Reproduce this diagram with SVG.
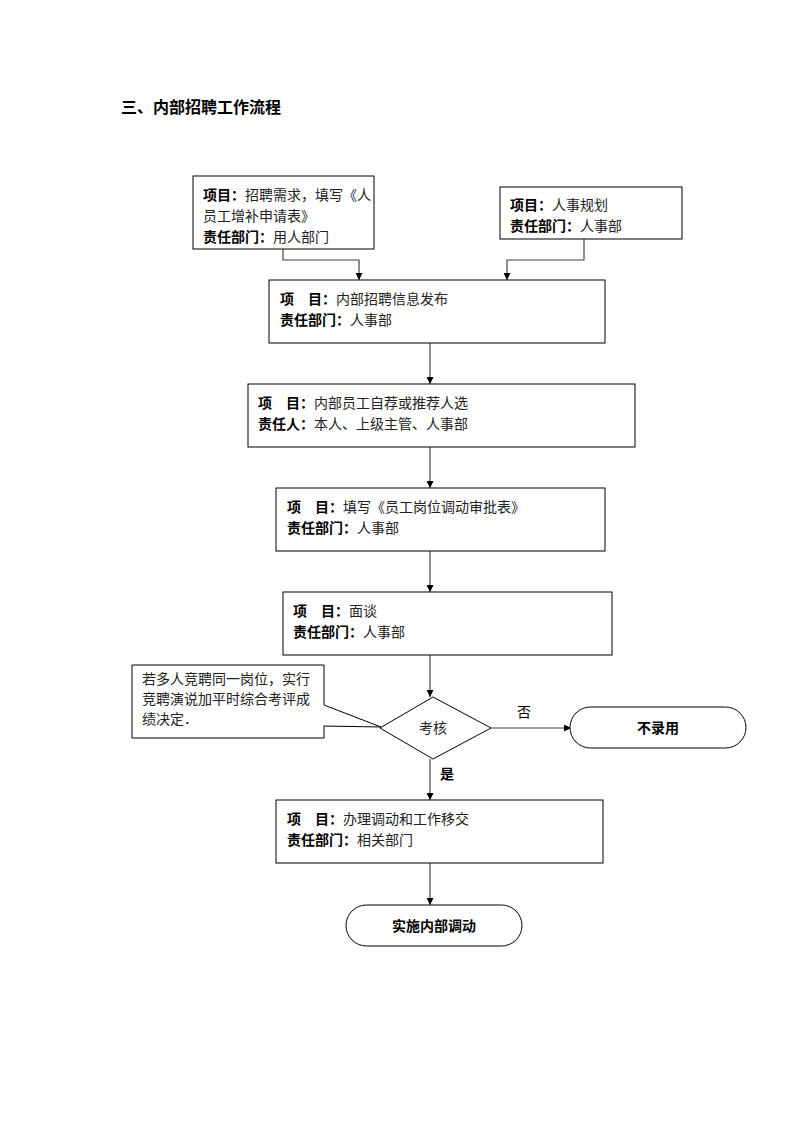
<svg xmlns="http://www.w3.org/2000/svg" width="793" height="1122" viewBox="0 0 793 1122">
<style>
text{font-family:"Noto Sans CJK SC","Liberation Sans",sans-serif;font-size:14px;fill:#000}
.b{font-weight:700}
.v{fill:#222}
.t{font-size:16px;font-weight:700}
.c{text-anchor:middle}
.box{fill:#fff;stroke:#000;stroke-width:1}
.conn{fill:none;stroke:#444;stroke-width:1.2}
</style>
<defs>
<marker id="ah" viewBox="0 0 10 10" refX="10" refY="5" markerWidth="7" markerHeight="7" orient="auto" markerUnits="userSpaceOnUse">
<path d="M0,0 L10,5 L0,10 z" fill="#000"/>
</marker>
</defs>
<rect width="793" height="1122" fill="#fff"/>
<text class="t" x="121" y="113">三、内部招聘工作流程</text>

<g id="connectors">
<path class="conn" d="M283,249 V260 H359 V280" marker-end="url(#ah)"/>
<path class="conn" d="M584,239 V260 H507 V280" marker-end="url(#ah)"/>
<path class="conn" d="M430,343 V384" marker-end="url(#ah)"/>
<path class="conn" d="M430,447 V488" marker-end="url(#ah)"/>
<path class="conn" d="M430,551 V592" marker-end="url(#ah)"/>
<path class="conn" d="M430,655 V697" marker-end="url(#ah)"/>
<path class="conn" d="M491,728 H571" marker-end="url(#ah)"/>
<path class="conn" d="M430,759 V800" marker-end="url(#ah)"/>
<path class="conn" d="M430,863 V905" marker-end="url(#ah)"/>
<text x="524" y="717" class="c">否</text>
<text x="447" y="779" class="c b">是</text>
</g>

<g id="n1">
<rect class="box" x="193" y="176" width="181" height="73"/>
<text x="203" y="200"><tspan class="b">项目：</tspan><tspan class="v">招聘需求，填写《人</tspan></text>
<text x="203" y="221" class="v">员工增补申请表》</text>
<text x="203" y="242"><tspan class="b">责任部门：</tspan><tspan class="v">用人部门</tspan></text>
</g>

<g id="n2">
<rect class="box" x="500" y="187" width="182" height="52"/>
<text x="510" y="210"><tspan class="b">项目：</tspan><tspan class="v">人事规划</tspan></text>
<text x="510" y="231"><tspan class="b">责任部门：</tspan><tspan class="v">人事部</tspan></text>
</g>

<g id="n3">
<rect class="box" x="269" y="280" width="336" height="63"/>
<text x="280" y="304"><tspan class="b">项　目：</tspan><tspan class="v">内部招聘信息发布</tspan></text>
<text x="280" y="325"><tspan class="b">责任部门：</tspan><tspan class="v">人事部</tspan></text>
</g>

<g id="n4">
<rect class="box" x="248" y="384" width="387" height="63"/>
<text x="258" y="408"><tspan class="b">项　目：</tspan><tspan class="v">内部员工自荐或推荐人选</tspan></text>
<text x="258" y="429"><tspan class="b">责任人：</tspan><tspan class="v">本人、上级主管、人事部</tspan></text>
</g>

<g id="n5">
<rect class="box" x="276" y="488" width="329" height="63"/>
<text x="287" y="512"><tspan class="b">项　目：</tspan><tspan class="v">填写《员工岗位调动审批表》</tspan></text>
<text x="287" y="533"><tspan class="b">责任部门：</tspan><tspan class="v">人事部</tspan></text>
</g>

<g id="n6">
<rect class="box" x="283" y="592" width="329" height="63"/>
<text x="293" y="616"><tspan class="b">项　目：</tspan><tspan class="v">面谈</tspan></text>
<text x="293" y="637"><tspan class="b">责任部门：</tspan><tspan class="v">人事部</tspan></text>
</g>

<g id="callout">
<path d="M132,665 H324 V705 L381,727 L324,726 V738 H132 Z" fill="#fff" stroke="#000" stroke-width="1"/>
<text x="142" y="684" class="v">若多人竞聘同一岗位，实行</text>
<text x="142" y="704" class="v">竞聘演说加平时综合考评成</text>
<text x="142" y="724" class="v">绩决定．</text>
</g>

<g id="decision">
<path d="M433,697 L491,728 L433,759 L380,728 Z" fill="#fff" stroke="#000" stroke-width="1"/>
<text x="433" y="733" class="c v">考核</text>
</g>

<g id="reject">
<rect class="box" x="570" y="707" width="176" height="41" rx="20.5" ry="20.5"/>
<text x="658" y="733" class="c b">不录用</text>
</g>

<g id="n7">
<rect class="box" x="276" y="800" width="327" height="63"/>
<text x="287" y="824"><tspan class="b">项　目：</tspan><tspan class="v">办理调动和工作移交</tspan></text>
<text x="287" y="845"><tspan class="b">责任部门：</tspan><tspan class="v">相关部门</tspan></text>
</g>

<g id="end">
<rect class="box" x="346" y="905" width="176" height="41" rx="20.5" ry="20.5"/>
<text x="434" y="931" class="c b">实施内部调动</text>
</g>
</svg>
